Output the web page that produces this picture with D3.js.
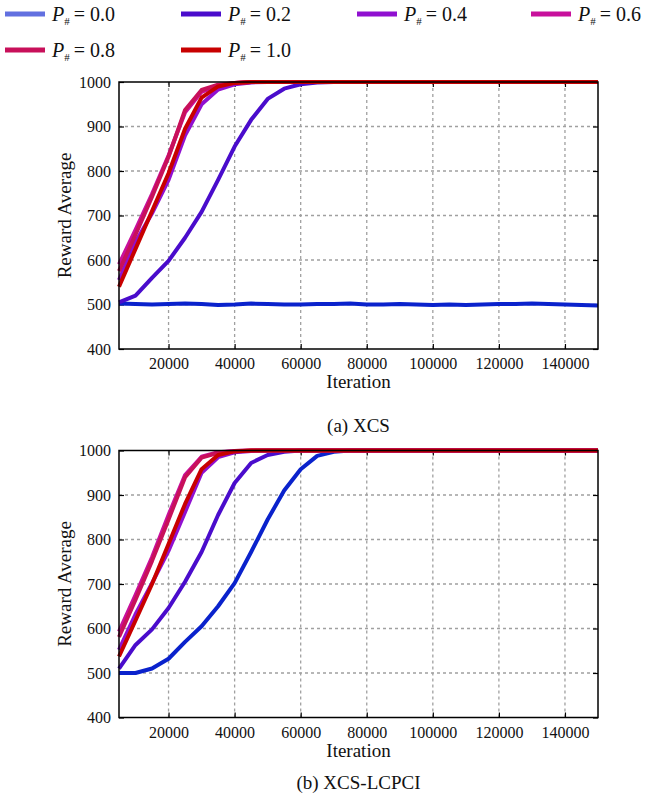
<!DOCTYPE html>
<html><head><meta charset="utf-8">
<script src="https://cdn.jsdelivr.net/npm/d3@7"></script>
<style>
body{margin:0;background:#fff;}
svg{display:block;}
svg text{font-family:"Liberation Serif","Times New Roman",serif;}
</style></head>
<body><svg id="c" width="670" height="802"></svg>
<script>
const iterations = [5000,10000,15000,20000,25000,30000,35000,40000,45000,50000,55000,60000,65000,70000,75000,80000,85000,90000,95000,100000,105000,110000,115000,120000,125000,130000,135000,140000,145000,150000];
const seriesNames = ["0.0","0.2","0.4","0.6","0.8","1.0"];
const lineColors = ["#0a22cc","#4a0ccc","#9010d0","#c8109c","#c8105a","#c80000"];
const legendColors = ["#6270e0","#4a0ccc","#9010d0","#c8109c","#c8105a","#c80000"];
const xTicks = [20000,40000,60000,80000,100000,120000,140000];
const yTicks = [400,500,600,700,800,900,1000];

// (a) XCS
const xcs_p00 = [502,501,500,501,502,501,499,500,502,501,500,500,501,501,502,500,500,501,500,499,500,499,500,501,501,502,501,500,499,498];
const xcs_p02 = [505,520,560,598,650,708,780,855,915,962,985,995,999,1000,1000,1000,1000,1000,1000,1000,1000,1000,1000,1000,1000,1000,1000,1000,1000,1000];
const xcs_p04 = [555,640,705,780,880,950,983,995,999,1000,1000,1000,1000,1000,1000,1000,1000,1000,1000,1000,1000,1000,1000,1000,1000,1000,1000,1000,1000,1000];
const xcs_p06 = [590,668,748,835,932,978,993,998,1000,1000,1000,1000,1000,1000,1000,1000,1000,1000,1000,1000,1000,1000,1000,1000,1000,1000,1000,1000,1000,1000];
const xcs_p08 = [575,657,742,832,937,982,994,998,1000,1000,1000,1000,1000,1000,1000,1000,1000,1000,1000,1000,1000,1000,1000,1000,1000,1000,1000,1000,1000,1000];
const xcs_p10 = [540,625,710,795,895,965,990,998,1000,1000,1000,1000,1000,1000,1000,1000,1000,1000,1000,1000,1000,1000,1000,1000,1000,1000,1000,1000,1000,1000];

// (b) XCS-LCPCI
const lcpci_p00 = [500,500,510,532,570,605,650,702,772,845,910,958,988,997,1000,1000,1000,1000,1000,1000,1000,1000,1000,1000,1000,1000,1000,1000,1000,1000];
const lcpci_p02 = [510,563,598,646,705,772,855,927,972,990,997,1000,1000,1000,1000,1000,1000,1000,1000,1000,1000,1000,1000,1000,1000,1000,1000,1000,1000,1000];
const lcpci_p04 = [552,632,702,775,862,950,985,996,999,1000,1000,1000,1000,1000,1000,1000,1000,1000,1000,1000,1000,1000,1000,1000,1000,1000,1000,1000,1000,1000];
const lcpci_p06 = [593,675,760,855,945,986,996,999,1000,1000,1000,1000,1000,1000,1000,1000,1000,1000,1000,1000,1000,1000,1000,1000,1000,1000,1000,1000,1000,1000];
const lcpci_p08 = [581,665,752,845,940,984,995,999,1000,1000,1000,1000,1000,1000,1000,1000,1000,1000,1000,1000,1000,1000,1000,1000,1000,1000,1000,1000,1000,1000];
const lcpci_p10 = [537,618,700,790,880,958,990,998,1000,1000,1000,1000,1000,1000,1000,1000,1000,1000,1000,1000,1000,1000,1000,1000,1000,1000,1000,1000,1000,1000];

const panels = [
  {caption:"(a) XCS", series:[xcs_p00,xcs_p02,xcs_p04,xcs_p06,xcs_p08,xcs_p10], top:82, bottom:349, capY:432},
  {caption:"(b) XCS-LCPCI", series:[lcpci_p00,lcpci_p02,lcpci_p04,lcpci_p06,lcpci_p08,lcpci_p10], top:450.5, bottom:717.5, capY:789}
];

const svg = d3.select("#c");
const left = 119, right = 598;

// Legend
const legCols = [5,181,357,531];
const legRows = [14,50];
seriesNames.forEach((n,i)=>{
  const cx = legCols[i%4], cy = legRows[Math.floor(i/4)];
  const g = svg.append("g").attr("transform",`translate(${cx},${cy})`);
  g.append("line").attr("x1",0).attr("x2",40).attr("y1",0).attr("y2",0)
    .attr("stroke",legendColors[i]).attr("stroke-width",5);
  const t = g.append("text").attr("x",47).attr("y",7)
    .style("font-size","20px").attr("fill","#111");
  t.append("tspan").style("font-style","italic").text("P");
  t.append("tspan").style("font-size","11px").attr("dy",4).text("#");
  t.append("tspan").attr("dy",-4).text("\u2009= " + n);
});

panels.forEach(p=>{
  const x = d3.scaleLinear().domain([5000,150000]).range([left,right]);
  const y = d3.scaleLinear().domain([400,1000]).range([p.bottom,p.top]);
  const g = svg.append("g");
  // grid
  g.selectAll(".gx").data(xTicks).join("line")
    .attr("x1",d=>x(d)).attr("x2",d=>x(d)).attr("y1",p.top).attr("y2",p.bottom)
    .attr("stroke","#a0a0a0").attr("stroke-width",1.3).attr("stroke-dasharray","3,3");
  g.selectAll(".gy").data(yTicks.filter(d=>d>400&&d<1000)).join("line")
    .attr("x1",left).attr("x2",right).attr("y1",d=>y(d)).attr("y2",d=>y(d))
    .attr("stroke","#a0a0a0").attr("stroke-width",1.3).attr("stroke-dasharray","3,3");
  // axes (ticks inward)
  const xb = d3.axisBottom(x).tickValues(xTicks).tickSize(-5).tickPadding(9).tickFormat(d3.format("d"));
  const yl = d3.axisLeft(y).tickValues(yTicks).tickSize(-5).tickPadding(8).tickFormat(d3.format("d"));
  const xt = d3.axisTop(x).tickValues(xTicks).tickSize(-5).tickFormat("");
  const yr = d3.axisRight(y).tickValues(yTicks).tickSize(-5).tickFormat("");
  [[xb,`translate(0,${p.bottom})`],[yl,`translate(${left},0)`],[xt,`translate(0,${p.top})`],[yr,`translate(${right},0)`]].forEach(([ax,tr])=>{
    const a = g.append("g").attr("transform",tr).call(ax).attr("font-family",null);
    a.select(".domain").remove();
    a.selectAll("line").attr("stroke","#000").attr("stroke-width",1.2);
    a.selectAll("text").style("font-family",'"Liberation Serif",serif').style("font-size","16px").attr("fill","#111");
  });
  // lines
  const line = d3.line().x((d,i)=>x(iterations[i])).y(d=>y(d));
  p.series.forEach((s,i)=>{
    g.append("path").datum(s).attr("d",line).attr("fill","none")
      .attr("stroke",lineColors[i]).attr("stroke-width",4).attr("stroke-linejoin","round");
  });
  // frame
  g.append("rect").attr("x",left).attr("y",p.top).attr("width",right-left).attr("height",p.bottom-p.top)
    .attr("fill","none").attr("stroke","#000").attr("stroke-width",1.5);
  // labels
  g.append("text").attr("x",(left+right)/2).attr("y",p.bottom+39).attr("text-anchor","middle")
    .style("font-size","19px").attr("fill","#111").text("Iteration");
  g.append("text").attr("transform",`translate(71,${(p.top+p.bottom)/2}) rotate(-90)`).attr("text-anchor","middle")
    .style("font-size","19px").attr("fill","#111").text("Reward Average");
  g.append("text").attr("x",(left+right)/2).attr("y",p.capY).attr("text-anchor","middle")
    .style("font-size","19px").attr("fill","#111").text(p.caption);
});
</script></body></html>
